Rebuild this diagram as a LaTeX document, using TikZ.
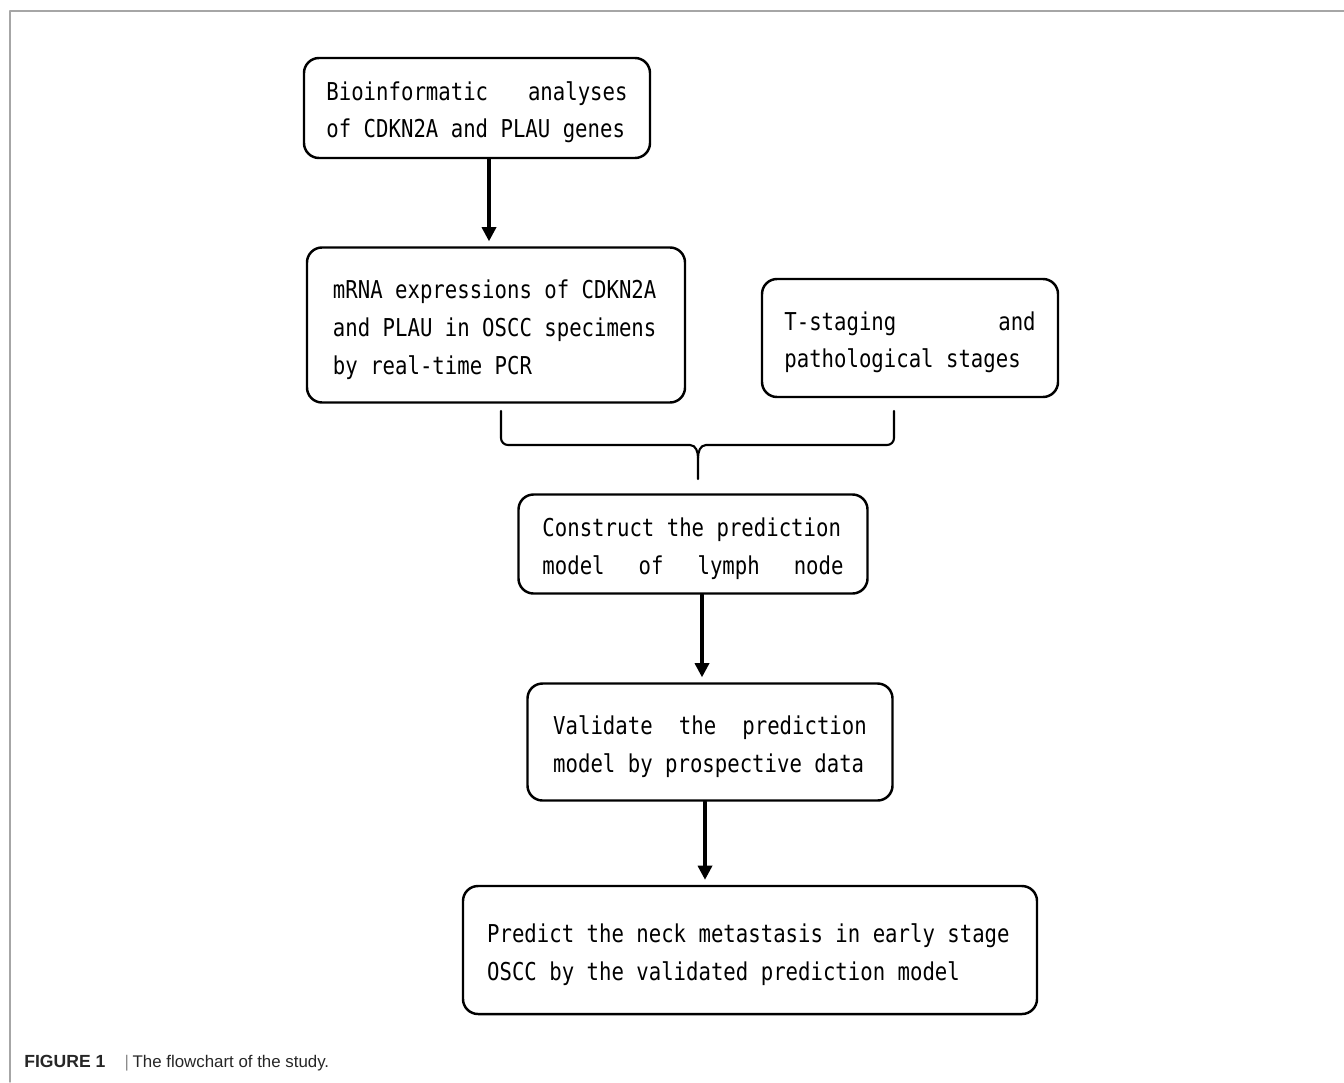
\documentclass[tikz,border=0pt]{standalone}
\usepackage{fontspec}
\setmainfont{Liberation Sans}
\newfontfamily\boxfont[FakeStretch=0.84]{DejaVu Sans Mono}
\protected\def\boxtext{\boxfont\fontsize{14pt}{21.6pt}\selectfont}
% fixed word space, as wide as one character
\AtBeginDocument{{\boxtext\fontdimen2\font=7.08pt\fontdimen3\font=0pt\fontdimen4\font=0pt\fontdimen7\font=0pt}}
\usetikzlibrary{arrows.meta}

\begin{document}
\begin{tikzpicture}[x=0.02cm,y=-0.02cm, line cap=round, line join=round,
  stepbox/.style={draw, line width=1.4pt, rounded corners=0.3cm, inner sep=0pt,
    align=left, font=\boxtext, execute at begin node={\spaceskip=7.08pt\relax\rule{0pt}{15.5pt}}},
  flow/.style={line width=1.8pt, -{Triangle[width=8pt,length=8pt]}, shorten >=0.1cm},
  bracket/.style={line width=1.2pt}]

% -----------------------------
% Parameters
% -----------------------------
\def\px{0.02cm}      % one pixel of the reference
\def\ch{7.1pt}       % one character of the box font

% Room for the frame and the caption
\useasboundingbox (0,0) rectangle (1344,1082);

% -----------------------------
% Frame
% -----------------------------
\draw[black!35, line width=0.8pt] (10,1082) -- (10,11) -- (1344,11);

% -----------------------------
% Boxes
% -----------------------------
\node[stepbox, minimum width={346*\px}, minimum height={100*\px}, text width={24*\ch+1pt}]
  (bio) at (477,108) {Bioinformatic\hfill analyses\\of CDKN2A and PLAU genes};

\node[stepbox, minimum width={378*\px}, minimum height={155*\px}, text width={26*\ch+1pt}]
  (mrna) at (496,325) {mRNA expressions of CDKN2A\\and PLAU in OSCC specimens\\by real-time PCR};

\node[stepbox, minimum width={296*\px}, minimum height={118*\px}, text width={20*\ch+1pt}]
  (tstage) at (910,338) {T-staging\hfill and\\pathological stages};

\node[stepbox, minimum width={349*\px}, minimum height={99*\px}, text width={24*\ch+1pt}]
  (build) at (693,544) {Construct the prediction\\model\hfill of\hfill lymph\hfill node};

\node[stepbox, minimum width={365*\px}, minimum height={117*\px}, text width={25*\ch+1pt}]
  (valid) at (710,742) {Validate\hfill the\hfill prediction\\model by prospective data};

\node[stepbox, minimum width={574*\px}, minimum height={128*\px}, text width={42*\ch+1pt}]
  (predict) at (750,950) {Predict the neck metastasis in early stage\\OSCC by the validated prediction model};

% -----------------------------
% Arrows
% -----------------------------
\coordinate (a1) at (489,0);
\coordinate (a2) at (702,0);
\coordinate (a3) at (705,0);

\draw[flow] (bio.south -| a1) -- (mrna.north -| a1);
\draw[flow] (build.south -| a2) -- (valid.north -| a2);
\draw[flow] (valid.south -| a3) -- (predict.north -| a3);

% -----------------------------
% Brace joining the two inputs
% -----------------------------
\coordinate (brL) at (501,411);
\coordinate (brR) at (894,411);
\coordinate (brT) at (698,479);

\draw[bracket] (brL) -- (501,438) to[out=-90,in=180] (508,445) -- (690,445)
  to[out=0,in=90] (698,458) -- (brT);
\draw[bracket] (brR) -- (894,438) to[out=-90,in=0] (887,445) -- (706,445)
  to[out=180,in=90] (698,458);

% -----------------------------
% Caption
% -----------------------------
\node[anchor=base west, inner sep=0pt, text=black!85, font=\fontsize{9.6pt}{11pt}\selectfont]
  (caption) at (24,1067) {{\fontsize{10pt}{11pt}\selectfont\bfseries FIGURE 1}\hspace{11pt}{\color{black!45}|}\hspace{2pt}The flowchart of the study.};

\end{tikzpicture}
\end{document}
